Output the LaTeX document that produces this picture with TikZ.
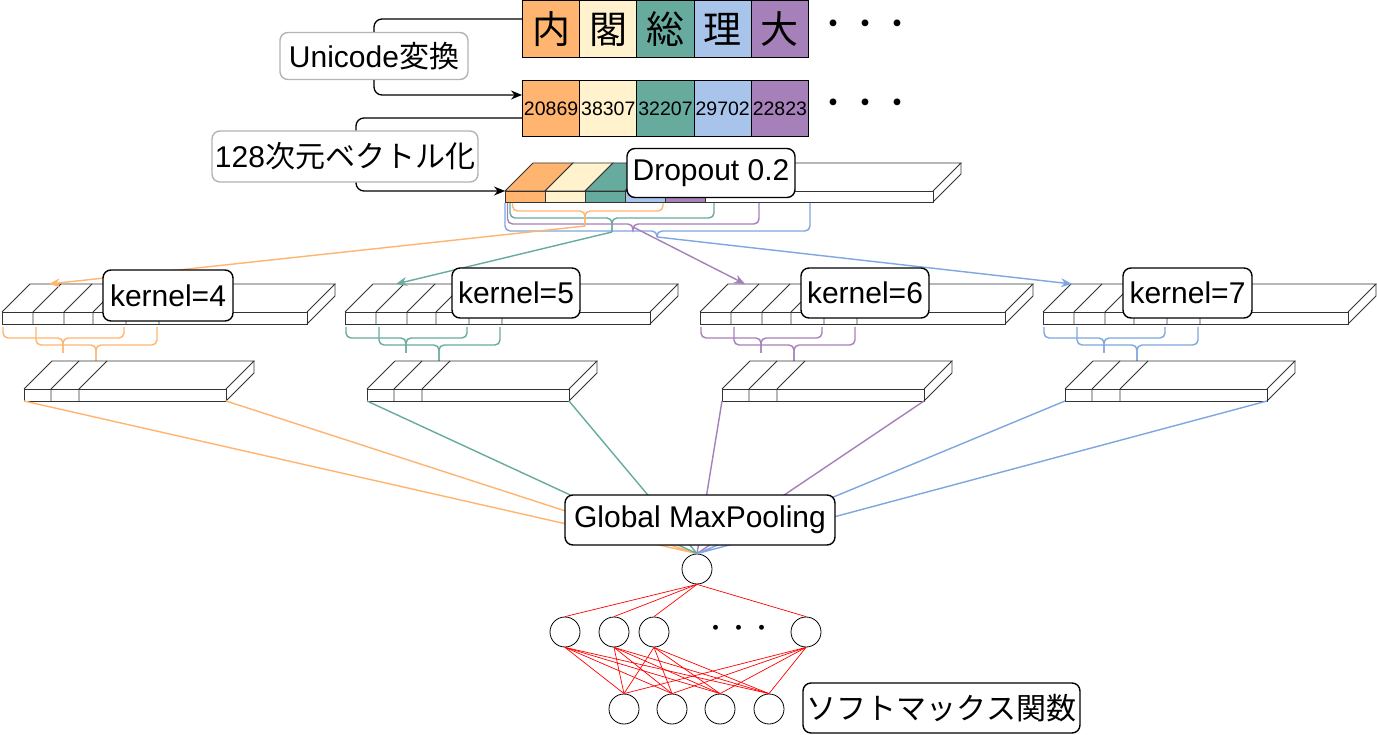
\documentclass[tikz,border=0pt]{standalone}
\usepackage{fontspec}
\setmainfont{Liberation Sans}
\newfontfamily\cjk{Noto Sans CJK JP}
\usetikzlibrary{arrows.meta,calc}
\definecolor{cOr}{HTML}{FFB570}
\definecolor{cYe}{HTML}{FFF2CC}
\definecolor{cTe}{HTML}{67AB9F}
\definecolor{cBl}{HTML}{A9C4EB}
\definecolor{cPu}{HTML}{A680B8}
\definecolor{lBl}{HTML}{7EA6E0}
\definecolor{lblgray}{HTML}{B3B3B3}
\newcommand{\kgroup}[3]{%
  \draw[slab] (#1,312) rectangle (#1+305,324);
  \draw[slab] (#1,312) -- (#1+28,284) -- (#1+333,284) -- (#1+305,312);
  \draw[slab] (#1+333,284) -- (#1+333,296) -- (#1+305,324);
  \foreach \cc in {31,62,91,124,157} {\draw[slab] (#1+\cc,324) -- (#1+\cc,312) -- (#1+\cc+28,284);}
  \draw[brc,#2] (#1+1,327) |- (#1+61,338) -- (#1+61,353);
  \draw[brc,#2] (#1+122,327) |- (#1+61,338) -- (#1+61,353);
  \draw[brc,#2] (#1+34,327) |- (#1+94,345) -- (#1+94,361);
  \draw[brc,#2] (#1+155,327) |- (#1+94,345) -- (#1+94,361);
  \draw[slab] (#1+22,389) rectangle (#1+224,401);
  \draw[slab] (#1+22,389) -- (#1+50,361) -- (#1+252,361) -- (#1+224,389);
  \draw[slab] (#1+252,361) -- (#1+252,373) -- (#1+224,401);
  \foreach \cc in {49,77} {\draw[slab] (#1+\cc,401) -- (#1+\cc,389) -- (#1+\cc+28,361);}
  \coordinate (#3l) at (#1+22,401);
  \coordinate (#3r) at (#1+224,401);
}
\begin{document}
\begin{tikzpicture}[x=1pt,y=-1pt,
  every node/.style={font=\fontsize{30}{34}\selectfont},
  lbl/.style={draw, line width=1.4pt, rounded corners=8pt, fill=white, inner sep=0pt, minimum height=50pt},
  glbl/.style={draw=lblgray, line width=1.4pt, rounded corners=8pt, fill=white, inner sep=0pt},
  cell/.style={draw, line width=1pt, anchor=north west, minimum width=57.2pt, minimum height=57pt, inner sep=0pt},
  slab/.style={line width=0.8pt, draw=black!80},
  brc/.style={line width=1.4pt, rounded corners=5pt},
  conn/.style={line width=1.3pt, rounded corners=8pt},
  arr/.style={-{Stealth[length=11pt,width=9pt]}},
  cl/.style={line width=1.4pt},
  neuron/.style={circle, draw, line width=0.8pt, minimum size=30pt, inner sep=0pt},
  rl/.style={red, line width=0.7pt}]
\fill[white] (0,0) rectangle (1377,735);
\useasboundingbox (0,0) rectangle (1377,735);

% top rows
\foreach \i/\col/\ch/\num in {0/cOr/内/20869,1/cYe/閣/38307,2/cTe/総/32207,3/cBl/理/29702,4/cPu/大/22823} {
  \node[cell, fill=\col, font=\cjk\fontsize{38}{40}\selectfont] (c\i) at (522+57.2*\i,0.5) {\ch};
  \node[cell, fill=\col, minimum height=56pt, font=\fontsize{19.5}{20}\selectfont] (d\i) at (522+57.2*\i,80) {\num};
}
\node[font=\cjk\fontsize{32}{32}\selectfont] (dotsA) at (865,28) {・・・};
\node[font=\cjk\fontsize{32}{32}\selectfont] (dotsB) at (865,107) {・・・};

% labels of the conversion steps
\node[glbl, minimum width=188pt, minimum height=47pt] (uni) at (374,56) {Unicode{\cjk 変換}};
\node[glbl, minimum width=266pt, minimum height=51pt] (vec) at (345,156.5) {128{\cjk 次元ベクトル化}};
\coordinate (uA) at (522,19);
\coordinate (uB) at (522,95);
\coordinate (vA) at (522,118);
\coordinate (vB) at (505,191);
\draw[conn] (uA) -| (uni.north);
\draw[conn,arr] (uni.south) |- (uB);
\draw[conn] (vA) -| ([xshift=11pt]vec.north);
\draw[conn,arr] ([xshift=11pt]vec.south) |- (vB);

% dropout tensor
\foreach \i/\col in {0/cOr,1/cYe,2/cTe,3/cBl,4/cPu} {
  \filldraw[slab, fill=\col] (505+40*\i,191) rectangle ++(40,11);
  \filldraw[slab, fill=\col] (505+40*\i,191) -- ++(28,-28) -- ++(40,0) -- ++(-28,28) -- cycle;
}
\draw[slab] (705,191) rectangle (933,202);
\draw[slab] (705,191) -- (733,163) -- (961,163) -- (933,191);
\draw[slab] (961,163) -- (961,174) -- (933,202);

% braces under dropout tensor
\draw[brc,lBl] (505,203) |- (657,231) -- (657,237);
\draw[brc,lBl] (810,203) |- (657,231) -- (657,237);
\draw[brc,cPu] (507.5,203) |- (633,224) -- (633,227);
\draw[brc,cPu] (759,203) |- (633,224) -- (633,227);
\draw[brc,cTe] (510,203) |- (612,218) -- (612,232);
\draw[brc,cTe] (714,203) |- (612,218) -- (612,232);
\draw[brc,cOr] (512.5,203) |- (585,211) -- (585,226);
\draw[brc,cOr] (663,203) |- (585,211) -- (585,226);
\coordinate (tOr) at (585,226);
\coordinate (tTe) at (612,232);
\coordinate (tPu) at (633,227);
\coordinate (tBl) at (657,237);

\node[lbl, minimum width=168pt, minimum height=49pt] (drop) at (711,173) {Dropout 0.2};

% kernel groups
\kgroup{2}{cOr}{gA}
\kgroup{345}{cTe}{gB}
\kgroup{700}{cPu}{gC}
\kgroup{1043}{lBl}{gD}
\coordinate (aA) at (49,284);
\coordinate (aB) at (396,284);
\coordinate (aC) at (745,284);
\coordinate (aD) at (1072,284);
\draw[cl, cOr, arr] (tOr) -- (aA);
\draw[cl, cTe, arr] (tTe) -- (aB);
\draw[cl, cPu, arr] (tPu) -- (aC);
\draw[cl, lBl, arr] (tBl) -- (aD);

\node[lbl, minimum width=130pt, minimum height=51pt] (kA) at (168,295.5) {kernel=4};
\node[lbl, minimum width=128pt, minimum height=50pt] (kB) at (516,293) {kernel=5};
\node[lbl, minimum width=128pt, minimum height=50pt] (kC) at (865,293) {kernel=6};
\node[lbl, minimum width=129pt, minimum height=50pt] (kD) at (1187.5,293) {kernel=7};

% network
\node[neuron] (n0) at (697,569) {};
\draw[cl, cOr] (gAl) -- (n0.north) (gAr) -- (n0.north);
\draw[cl, cTe] (gBl) -- (n0.north) (gBr) -- (n0.north);
\draw[cl, cPu] (gCl) -- (n0.north) (gCr) -- (n0.north);
\draw[cl, lBl] (gDl) -- (n0.north) (gDr) -- (n0.north);
\node[lbl, minimum width=270pt, minimum height=50pt] (gmp) at (700,520) {Global MaxPooling};

\node[neuron] (h1) at (565,632) {};
\node[neuron] (h2) at (614,632) {};
\node[neuron] (h3) at (654,632) {};
\node[neuron] (h4) at (806,632) {};
\node[font=\cjk\fontsize{23}{23}\selectfont] (dotsC) at (739,631) {・・・};
\node[neuron] (o1) at (624,709) {};
\node[neuron] (o2) at (672,709) {};
\node[neuron] (o3) at (720,709) {};
\node[neuron] (o4) at (769,709) {};
\foreach \h in {h1,h2,h3,h4} {
  \draw[rl] (n0.south) -- (\h.north);
  \foreach \o in {o1,o2,o3,o4} {\draw[rl] (\h.south) -- (\o.north);}
}
\node[lbl, minimum width=277pt, minimum height=50pt] (soft) at (941.5,708) {\cjk ソフトマックス関数};
\end{tikzpicture}
\end{document}
